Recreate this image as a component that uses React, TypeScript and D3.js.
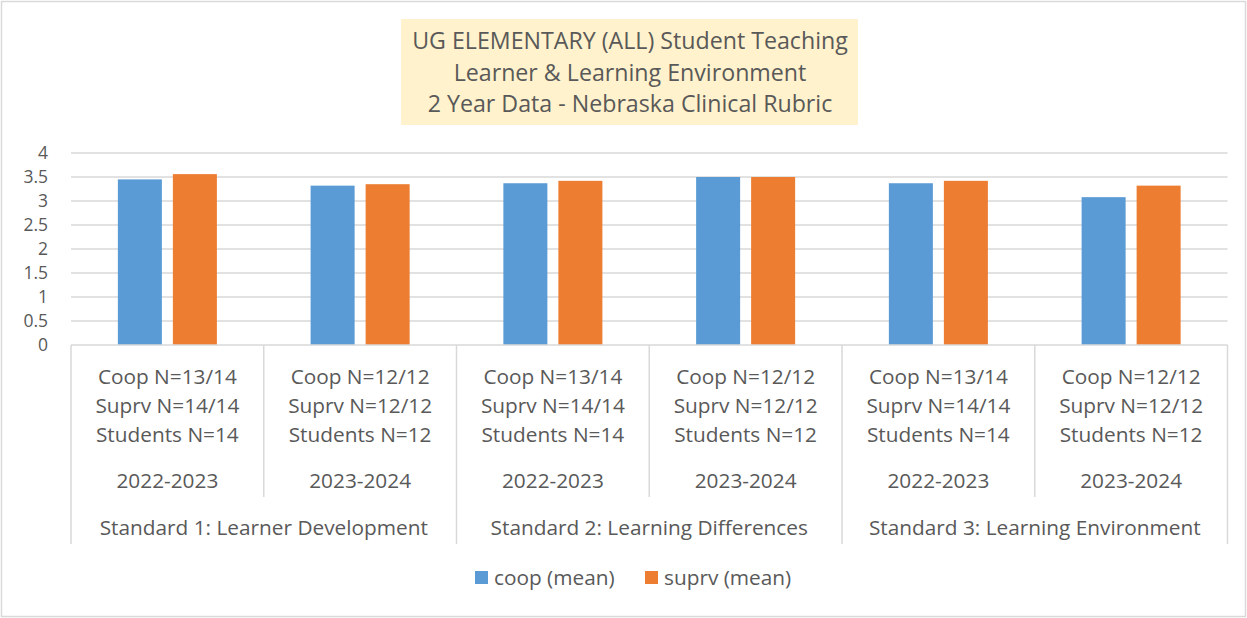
import React, { useRef, useEffect } from 'react';
import * as d3 from 'd3';

// chart data
const categories = ['cat1', 'cat2', 'cat3', 'cat4', 'cat5', 'cat6'];
const catLabels = [
  ['Coop N=13/14', 'Suprv N=14/14', 'Students N=14'],
  ['Coop N=12/12', 'Suprv N=12/12', 'Students N=12'],
  ['Coop N=13/14', 'Suprv N=14/14', 'Students N=14'],
  ['Coop N=12/12', 'Suprv N=12/12', 'Students N=12'],
  ['Coop N=13/14', 'Suprv N=14/14', 'Students N=14'],
  ['Coop N=12/12', 'Suprv N=12/12', 'Students N=12'],
];
const years = ['2022-2023', '2023-2024', '2022-2023', '2023-2024', '2022-2023', '2023-2024'];
const standards = ['Standard 1: Learner Development', 'Standard 2: Learning Differences', 'Standard 3: Learning Environment'];
const seriesNames = ['coop (mean)', 'suprv (mean)'];
const coopMean = [3.45, 3.32, 3.37, 3.5, 3.37, 3.08];
const suprvMean = [3.56, 3.35, 3.42, 3.5, 3.42, 3.32];
const yTicks = [0, 0.5, 1, 1.5, 2, 2.5, 3, 3.5, 4];
const titleLines = [
  'UG ELEMENTARY (ALL) Student Teaching',
  'Learner & Learning Environment',
  '2 Year Data - Nebraska Clinical Rubric',
];

const colors = ['#5b9bd5', '#ed7d31'];
const textColor = '#595959';
const gridColor = '#d9d9d9';
const font = '"Open Sans", sans-serif';
const labelSize = 20.8;

function App() {
  const chartRef = useRef<SVGSVGElement>(null);

  useEffect(() => {
    const width = 1247;
    const height = 618;
    const svg = d3.select(chartRef.current);
    svg.selectAll('*').remove();
    svg.attr('width', width).attr('height', height);

    // outer chart border
    svg.append('rect')
      .attr('x', 1.5).attr('y', 1.5)
      .attr('width', width - 3).attr('height', height - 3)
      .attr('fill', '#fff')
      .attr('stroke', gridColor)
      .attr('stroke-width', 1.5);

    // title box
    svg.append('rect')
      .attr('x', 401).attr('y', 19)
      .attr('width', 457).attr('height', 106)
      .attr('fill', '#fff2cc');
    svg.append('g').selectAll('text')
      .data(titleLines)
      .enter().append('text')
      .attr('x', 630)
      .attr('y', (d, i) => 41 + i * 31.5)
      .attr('dy', '0.35em')
      .attr('text-anchor', 'middle')
      .attr('font-family', font)
      .attr('font-size', 23.2)
      .attr('fill', textColor)
      .text(d => d);

    const left = 71;
    const right = 1227.5;
    const top = 153;
    const bottom = 345;

    const yScale = d3.scaleLinear().domain([0, 4]).range([bottom, top]);
    const x0 = d3.scaleBand().domain(categories).range([left, right]).padding(0);
    const x1 = d3.scaleBand().domain(seriesNames)
      .range([0, x0.bandwidth()])
      .paddingInner(0.2)
      .paddingOuter(0.852);

    // gridlines
    svg.append('g').selectAll('line')
      .data(yTicks.filter(t => t > 0))
      .enter().append('line')
      .attr('x1', left).attr('x2', right)
      .attr('y1', d => yScale(d)).attr('y2', d => yScale(d))
      .attr('stroke', gridColor)
      .attr('stroke-width', 1.5);

    // y axis labels (a bit smaller so the tight 0.5 steps don't collide)
    svg.append('g').selectAll('text')
      .data(yTicks)
      .enter().append('text')
      .attr('x', 48)
      .attr('y', d => yScale(d))
      .attr('dy', '0.35em')
      .attr('text-anchor', 'end')
      .attr('font-family', font)
      .attr('font-size', 17.5)
      .attr('fill', textColor)
      .text(d => String(d));

    // bars
    const seriesData = [coopMean, suprvMean];
    const groups = svg.append('g').selectAll('g')
      .data(categories)
      .enter().append('g')
      .attr('transform', d => `translate(${x0(d)},0)`);
    groups.selectAll('rect')
      .data((d, i) => seriesNames.map((s, k) => ({ s, k, v: seriesData[k][i] })))
      .enter().append('rect')
      .attr('x', d => x1(d.s) as number)
      .attr('width', x1.bandwidth())
      .attr('y', d => yScale(d.v))
      .attr('height', d => bottom - yScale(d.v))
      .attr('fill', d => colors[d.k]);

    // category axis
    const axis = svg.append('g');
    axis.append('line')
      .attr('x1', left).attr('x2', right)
      .attr('y1', bottom).attr('y2', bottom)
      .attr('stroke', gridColor).attr('stroke-width', 1.5);
    const dividers = d3.range(categories.length + 1);
    axis.selectAll('line.div')
      .data(dividers)
      .enter().append('line')
      .attr('class', 'div')
      .attr('x1', i => left + i * x0.step())
      .attr('x2', i => left + i * x0.step())
      .attr('y1', bottom)
      .attr('y2', i => (i % 2 === 0 ? 544 : 497))
      .attr('stroke', gridColor)
      .attr('stroke-width', 1.5);

    categories.forEach((c, i) => {
      const cx = (x0(c) as number) + x0.bandwidth() / 2;
      catLabels[i].forEach((l, j) => {
        axis.append('text')
          .attr('x', cx).attr('y', 377 + j * 29)
          .attr('dy', '0.35em')
          .attr('text-anchor', 'middle')
          .attr('font-family', font)
          .attr('font-size', labelSize)
          .attr('fill', textColor)
          .text(l);
      });
      axis.append('text')
        .attr('x', cx).attr('y', 481)
        .attr('dy', '0.35em')
        .attr('text-anchor', 'middle')
        .attr('font-family', font)
        .attr('font-size', labelSize)
        .attr('fill', textColor)
        .text(years[i]);
    });
    standards.forEach((s, i) => {
      axis.append('text')
        .attr('x', left + (i * 2 + 1) * x0.step())
        .attr('y', 528)
        .attr('dy', '0.35em')
        .attr('text-anchor', 'middle')
        .attr('font-family', font)
        .attr('font-size', labelSize)
        .attr('fill', textColor)
        .text(s);
    });

    // legend
    const legendX = [475, 645];
    const legend = svg.append('g');
    seriesNames.forEach((s, k) => {
      legend.append('rect')
        .attr('x', legendX[k]).attr('y', 571)
        .attr('width', 13).attr('height', 13)
        .attr('fill', colors[k]);
      legend.append('text')
        .attr('x', legendX[k] + 19).attr('y', 578)
        .attr('dy', '0.35em')
        .attr('font-family', font)
        .attr('font-size', labelSize)
        .attr('fill', textColor)
        .text(s);
    });
  }, []);

  return (
    <svg ref={chartRef} style={{ position: 'absolute', left: 0, top: 0 }}></svg>
  );
}

export default App;
